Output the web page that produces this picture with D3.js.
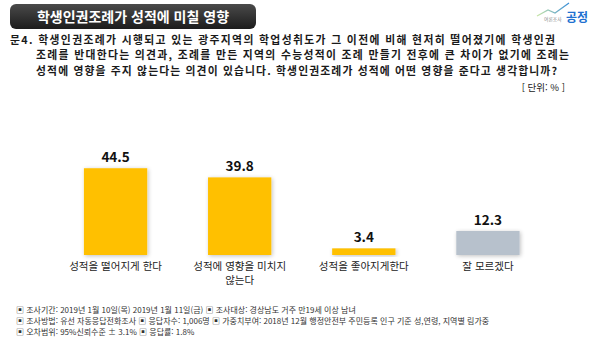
<!DOCTYPE html>
<html lang="ko">
<head>
<meta charset="utf-8">
<script src="https://cdn.jsdelivr.net/npm/d3@7"></script>
<style>
  html, body { margin: 0; padding: 0; background: #ffffff; }
  svg { display: block; font-family: "Noto Sans CJK KR", "Noto Sans", sans-serif; }
</style>
</head>
<body>
<svg id="chart" width="599" height="337"></svg>
<script>
// 응답 항목과 비율(%)
const categories = ["성적을 떨어지게 한다", "성적에 영향을 미치지|않는다", "성적을 좋아지게한다", "잘 모르겠다"];
const values = [44.5, 39.8, 3.4, 12.3];
const barColors = ["#FFC000", "#FFC000", "#FFC000", "#B7C1CC"];

const titleText = "학생인권조례가 성적에 미칠 영향";
const questionLines = [
  "문4. 학생인권조례가 시행되고 있는 광주지역의 학업성취도가 그 이전에 비해 현저히 떨어졌기에 학생인권",
  "조례를 반대한다는 의견과, 조례를 만든 지역의 수능성적이 조례 만들기 전후에 큰 차이가 없기에 조례는",
  "성적에 영향을 주지 않는다는 의견이 있습니다. 학생인권조례가 성적에 어떤 영향을 준다고 생각합니까?"
];
const unitText = "[ 단위: % ]";
const footnotes = [
  "▣ 조사기간: 2019년 1월 10일(목) 2019년 1월 11일(금) ▣ 조사대상: 경상남도 거주 만19세 이상 남녀",
  "▣ 조사방법: 유선 자동응답전화조사 ▣ 응답자수: 1,006명 ▣ 가중치부여: 2018년 12월 행정안전부 주민등록 인구 기준 성,연령, 지역별 림가중",
  "▣ 오차범위: 95%신뢰수준 ± 3.1% ▣ 응답률: 1.8%"
];

const svg = d3.select("#chart");
const defs = svg.append("defs");

// 제목 상자 그라데이션
const tg = defs.append("linearGradient").attr("id", "titleGrad")
  .attr("x1", 0).attr("y1", 0).attr("x2", 0).attr("y2", 1);
tg.append("stop").attr("offset", "0%").attr("stop-color", "#4a4a4a");
tg.append("stop").attr("offset", "100%").attr("stop-color", "#1c1c1c");

// 막대 주변의 옅은 그림자
const sh = defs.append("filter").attr("id", "soft")
  .attr("x", "-20%").attr("y", "-20%").attr("width", "140%").attr("height", "140%");
sh.append("feGaussianBlur").attr("in", "SourceAlpha").attr("stdDeviation", 2).attr("result", "b");
sh.append("feOffset").attr("in", "b").attr("dx", 1).attr("dy", 1).attr("result", "o");
sh.append("feComponentTransfer").attr("in", "o").attr("result", "s")
  .append("feFuncA").attr("type", "linear").attr("slope", 0.25);
const m = sh.append("feMerge");
m.append("feMergeNode").attr("in", "s");
m.append("feMergeNode").attr("in", "SourceGraphic");

// 로고 선 그라데이션
const lg = defs.append("linearGradient").attr("id", "logoGrad")
  .attr("x1", 0).attr("y1", 0).attr("x2", 1).attr("y2", 0);
lg.append("stop").attr("offset", "0%").attr("stop-color", "#c9e6a6");
lg.append("stop").attr("offset", "100%").attr("stop-color", "#3b8fd9");

// 제목
svg.append("rect")
  .attr("x", 10).attr("y", 4).attr("width", 246).attr("height", 25)
  .attr("rx", 6).attr("fill", "url(#titleGrad)");
svg.append("text")
  .attr("x", 133).attr("y", 21.5)
  .attr("text-anchor", "middle")
  .attr("fill", "#ffffff").attr("font-size", 14).attr("font-weight", 700)
  .text(titleText);

// 로고
const logo = svg.append("g");
logo.append("path")
  .attr("d", "M537,16 L548,10 L555,13 L569,3")
  .attr("fill", "none").attr("stroke", "url(#logoGrad)").attr("stroke-width", 1.3);
logo.append("text")
  .attr("x", 544).attr("y", 21).attr("font-size", 4.8).attr("fill", "#8a8a8a")
  .text("여론조사");
logo.append("text")
  .attr("x", 566).attr("y", 22).attr("font-size", 12).attr("font-weight", 700)
  .attr("fill", "#2170d0").text("공정");

// 질문 (줄 끝 위치를 맞추기 위해 글자 간격으로 폭 조정)
const questionWidths = [545, 533, 521];
svg.append("g").selectAll("text")
  .data(questionLines)
  .join("text")
  .attr("x", (d, i) => i === 0 ? 10 : 36)
  .attr("y", (d, i) => 43.5 + i * 15.7)
  .attr("font-size", 10.8)
  .attr("font-weight", 700)
  .attr("fill", "#1a1a1a")
  .attr("textLength", (d, i) => questionWidths[i])
  .attr("lengthAdjust", "spacing")
  .text(d => d);

svg.append("text")
  .attr("x", 565).attr("y", 90.5)
  .attr("text-anchor", "end")
  .attr("font-size", 9.5).attr("fill", "#222")
  .text(unitText);

// 척도
const x = d3.scaleBand()
  .domain(categories)
  .range([53.5, 550])
  .paddingInner(0.49)
  .paddingOuter(0.245);
const y = d3.scaleLinear().domain([0, 50]).range([255, 157.5]);

const g = svg.append("g");
g.selectAll("rect.bar")
  .data(values)
  .join("rect")
  .attr("class", "bar")
  .attr("x", (d, i) => x(categories[i]))
  .attr("width", x.bandwidth())
  .attr("y", d => y(d))
  .attr("height", d => y(0) - y(d))
  .attr("fill", (d, i) => barColors[i])
  .attr("filter", "url(#soft)");

// 값 표시
g.selectAll("text.val")
  .data(values)
  .join("text")
  .attr("class", "val")
  .attr("x", (d, i) => x(categories[i]) + x.bandwidth() / 2)
  .attr("y", d => y(d) - 6)
  .attr("text-anchor", "middle")
  .attr("font-size", 13.5).attr("font-weight", 700)
  .attr("fill", "#111")
  .text(d => d.toFixed(1));

// 항목 이름 (줄마다 따로 그림)
const catLines = categories.flatMap(c =>
  c.split("|").map((line, k) => ({ c, line, k })));
g.selectAll("text.cat")
  .data(catLines)
  .join("text")
  .attr("class", "cat")
  .attr("x", d => x(d.c) + x.bandwidth() / 2)
  .attr("y", d => 270 + d.k * 13.5)
  .attr("text-anchor", "middle")
  .attr("font-size", 10.5)
  .attr("fill", "#222")
  .text(d => d.line);

// 조사 개요
svg.append("g").selectAll("text")
  .data(footnotes)
  .join("text")
  .attr("x", 16)
  .attr("y", (d, i) => 312.5 + i * 11)
  .attr("font-size", 8)
  .attr("fill", "#333")
  .text(d => d);
</script>
</body>
</html>
